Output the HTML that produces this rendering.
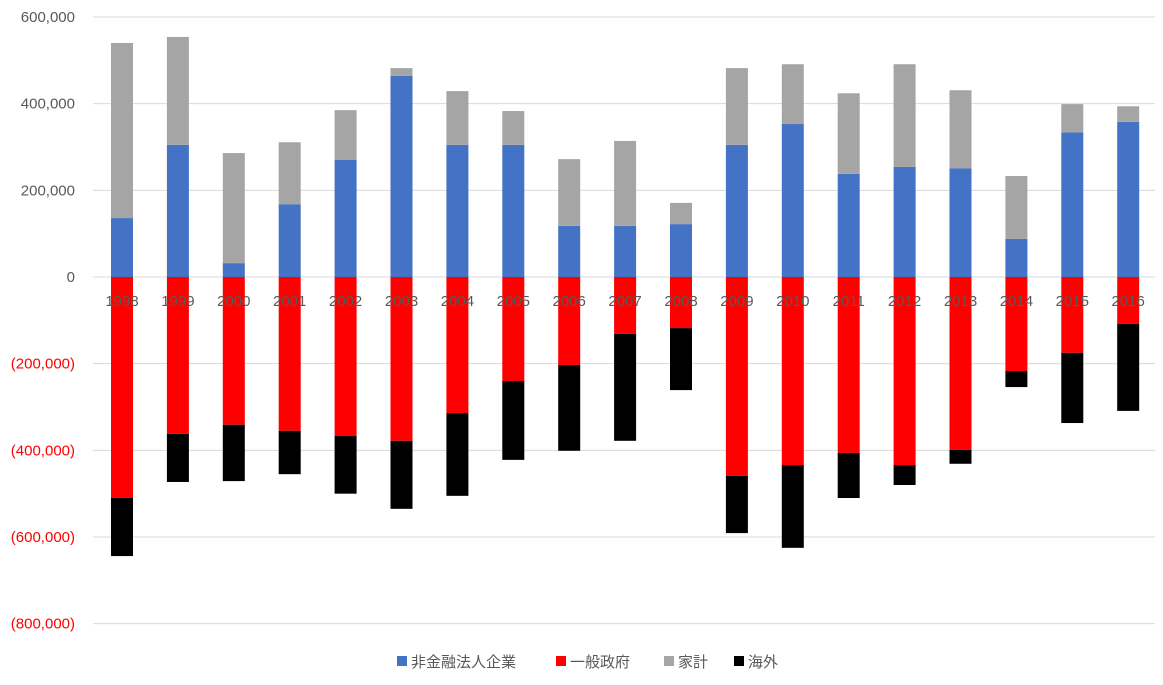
<!DOCTYPE html>
<html><head><meta charset="utf-8"><style>
body{margin:0;background:#fff;font-family:"Liberation Sans","Noto Sans CJK JP",sans-serif;}
</style></head><body>
<svg width="1163" height="680" font-family="Liberation Sans, Noto Sans CJK JP, sans-serif">
<g id="grid"></g><g id="bars"></g><g id="labels"></g>
<g font-size="15" fill="#595959">
<rect x="397" y="656" width="10" height="10" fill="#4472C4"/><text x="411" y="667">非金融法人企業</text>
<rect x="556" y="656" width="10" height="10" fill="#FF0000"/><text x="570" y="667">一般政府</text>
<rect x="664" y="656" width="10" height="10" fill="#A5A5A5"/><text x="678" y="667">家計</text>
<rect x="734" y="656" width="10" height="10" fill="#000000"/><text x="748" y="667">海外</text>
</g>
</svg>
<script>
const years=[1998,1999,2000,2001,2002,2003,2004,2005,2006,2007,2008,2009,2010,2011,2012,2013,2014,2015,2016];
const corp=[136,305,32,168,270,464,305,305,118,118,122,305,353,238,254,251,88,334,358];
const household=[404,249,254,143,115,18,124,78,154,196,49,177,138,186,237,180,145,65,36];
const gov=[-510,-362,-341,-355,-367,-378,-314,-240,-203,-131,-118,-459,-434,-406,-434,-399,-217,-175,-108];
const foreign=[-134,-111,-130,-100,-133,-157,-191,-182,-198,-247,-143,-132,-191,-104,-46,-32,-37,-162,-201];
const ticks=[600,400,200,0,-200,-400,-600,-800];
const NS='http://www.w3.org/2000/svg';
const y=v=>277-v*(260/600);
const x=i=>122+i*55.9;
function mk(tag,attrs,parent){const e=document.createElementNS(NS,tag);for(const k in attrs)e.setAttribute(k,attrs[k]);document.getElementById(parent).appendChild(e);return e;}
ticks.forEach(t=>{
 const l=mk('line',{x1:93,x2:1155,y1:y(t),y2:y(t),stroke:'#D9D9D9','stroke-width':1},'grid');
 
 
 const s=Math.abs(t*1000).toLocaleString('en-US');
 const tx=mk('text',{x:75,y:y(t)+5,'text-anchor':'end','font-size':15,fill:t<0?'#FF0000':'#595959'},'labels');
 tx.textContent=t<0?'('+s+')':s;
 
 
});
const w=22;
years.forEach((yr,i)=>{
 const cx=x(i);
 const segs=[[0,corp[i],'#4472C4','bar-corp'],[corp[i],corp[i]+household[i],'#A5A5A5','bar-household'],[0,gov[i],'#FF0000','bar-gov'],[gov[i],gov[i]+foreign[i],'#000000','bar-foreign']];
 segs.forEach(s=>{
  const a=y(s[0]),b=y(s[1]);
  const r=mk('rect',{x:cx-w/2,y:Math.min(a,b),width:w,height:Math.abs(b-a),fill:s[2]},'bars');
  
  
 });
 const t=mk('text',{x:cx,y:306,'text-anchor':'middle','font-size':15,fill:'#595959'},'labels');
 t.textContent=yr;
 
 
});
</script>
</body></html>
